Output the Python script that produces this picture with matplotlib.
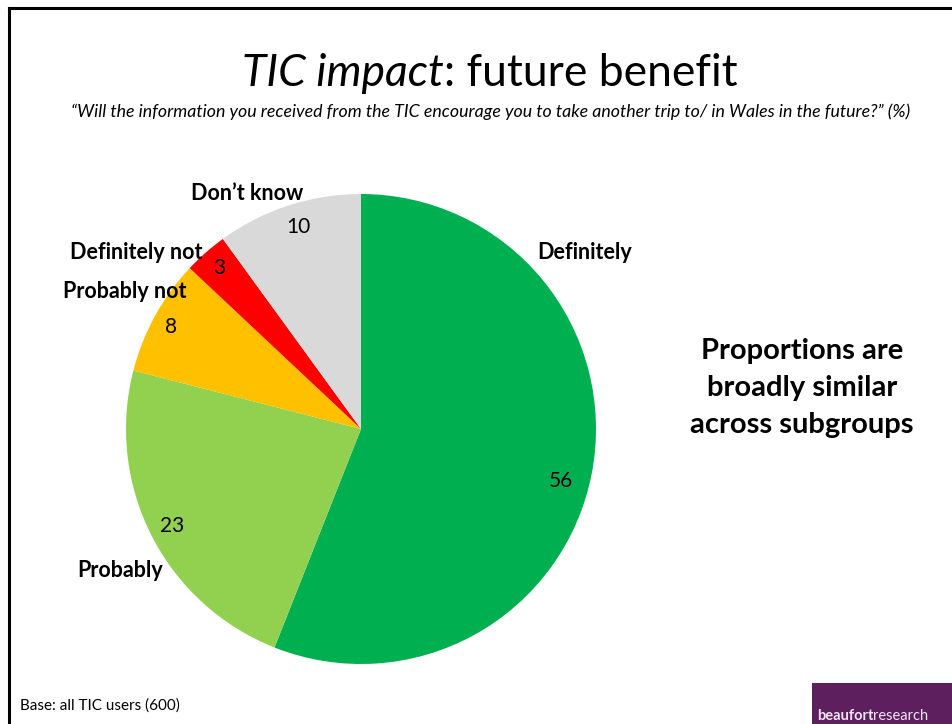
import matplotlib.pyplot as plt
from matplotlib.patches import Rectangle

# Survey answers, % of TIC users
categories = ["Definitely", "Probably", "Probably not", "Definitely not", "Don\u2019t know"]
values = [56, 23, 8, 3, 10]
colors = ["#00B050", "#92D050", "#FFC000", "#FF0000", "#D9D9D9"]

# label placement in pie units (radius = 1)
value_pos = [(0.851, -0.221), (-0.804, -0.413), (-0.809, 0.434), (-0.604, 0.685), (-0.268, 0.860)]
name_pos = [(0.953, 0.749), (-1.026, -0.604), (-1.004, 0.587), (-0.957, 0.749), (-0.485, 1.004)]

FONT = "Lato"
W, H = 953, 724

fig = plt.figure(figsize=(W / 100, H / 100), dpi=100)
fig.patch.set_facecolor("white")

# slide frame (top and left edges)
fig.add_artist(plt.Line2D([9 / W, 1], [1 - 8 / H, 1 - 8 / H], color="black", lw=2.2))
fig.add_artist(plt.Line2D([9 / W, 9 / W], [0, 1 - 8 / H], color="black", lw=2.2))

# title: italic part + regular part, centred as one line
title_y = 1 - 73 / H
t1 = fig.text(0, title_y, "TIC impact", fontsize=32, family=FONT, style="italic",
              va="center", ha="left")
t2 = fig.text(0, title_y, ": future benefit", fontsize=32, family=FONT,
              va="center", ha="left")
fig.canvas.draw()
r = fig.canvas.get_renderer()
w1 = t1.get_window_extent(r).width
w2 = t2.get_window_extent(r).width
x0 = 490 - (w1 + w2) / 2
t1.set_x(x0 / W)
t2.set_x((x0 + w1) / W)

fig.text(491 / W, 1 - 112 / H,
         "\u201cWill the information you received from the TIC encourage you to take another trip to/ in Wales in the future?\u201d (%)",
         fontsize=12.8, family=FONT, style="italic", ha="center", va="center")

ax = fig.add_axes([(361 - 235) / W, (H - 429 - 235) / H, 470 / W, 470 / H])
ax.pie(values, colors=colors, startangle=90, counterclock=False, radius=1,
       wedgeprops=dict(linewidth=0))
ax.set_xlim(-1, 1)
ax.set_ylim(-1, 1)
ax.set_aspect("auto")
ax.axis("off")

for v, (x, y) in zip(values, value_pos):
    ax.text(x, y, str(v), fontsize=15, family=FONT, ha="center", va="center")
for name, (x, y) in zip(categories, name_pos):
    ax.text(x, y, name, fontsize=15.5, family=FONT, weight="bold", ha="center", va="center")

fig.text(802 / W, 1 - 388 / H, "Proportions are\nbroadly similar\nacross subgroups",
         fontsize=21, family=FONT, weight="bold", ha="center", va="center", linespacing=1.5)

fig.text(20 / W, 1 - 706 / H, "Base: all TIC users (600)", fontsize=11, family=FONT,
         ha="left", va="center")

# logo block
fig.add_artist(Rectangle((812 / W, 0), (W - 812) / W, 41 / H, transform=fig.transFigure,
                         facecolor="#5E1F5E", edgecolor="none"))
lb = fig.text(817 / W, 1 - 716 / H, "beaufort", fontsize=10.5, family=FONT, weight="bold",
              color="#F2E6F2", ha="left", va="center")
fig.canvas.draw()
wb = lb.get_window_extent(fig.canvas.get_renderer()).width
fig.text((817 + wb) / W, 1 - 716 / H, "research", fontsize=10.5, family=FONT,
         color="#F2E6F2", ha="left", va="center")

fig.savefig("out.png", dpi=100)
